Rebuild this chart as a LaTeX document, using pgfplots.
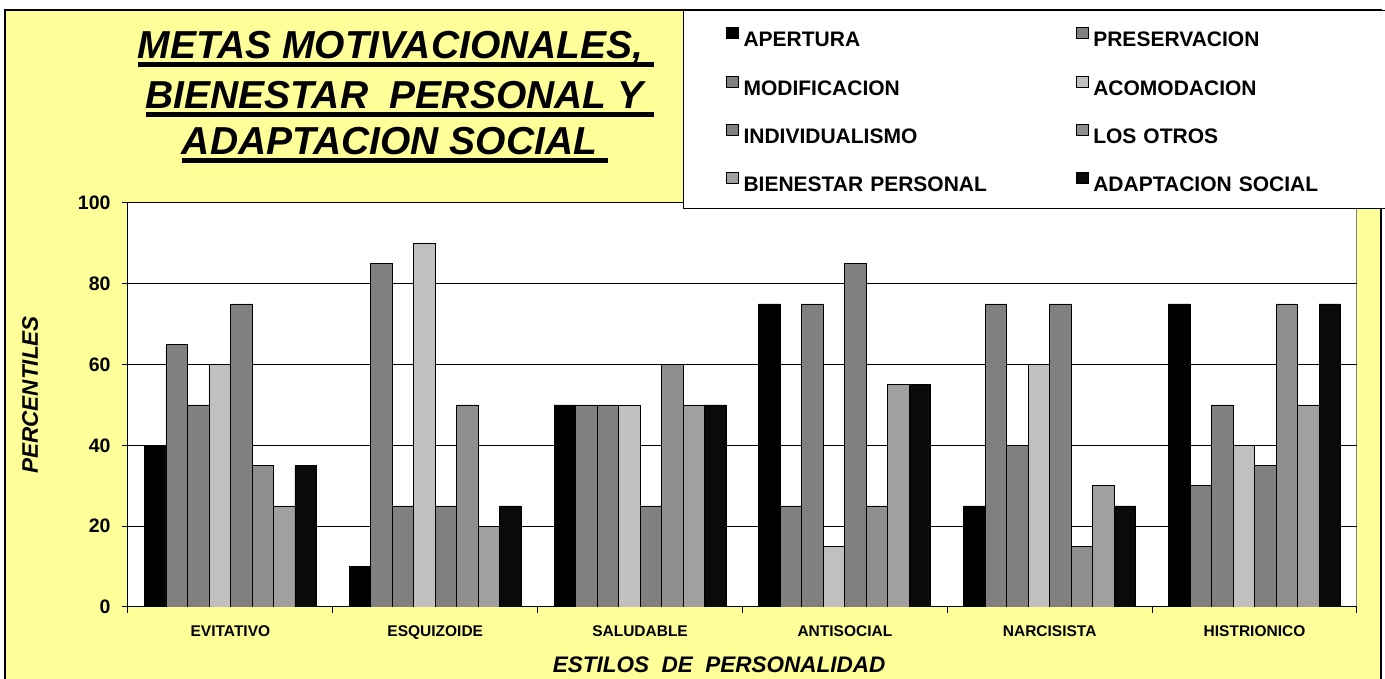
\documentclass[border=0pt]{standalone}
\usepackage{fontspec}
\setmainfont{Liberation Sans}
\usepackage{pgfplots}
\usepackage{pgfplotstable}
\pgfplotsset{compat=1.18}
\definecolor{bgyellow}{HTML}{FFFF99}
\definecolor{cA}{HTML}{000000}
\definecolor{cB}{HTML}{808080}
\definecolor{cC}{HTML}{808080}
\definecolor{cD}{HTML}{C0C0C0}
\definecolor{cE}{HTML}{808080}
\definecolor{cF}{HTML}{8F8F8F}
\definecolor{cG}{HTML}{A0A0A0}
\definecolor{cH}{HTML}{0A0A0A}
\newcommand{\ul}[1]{\setbox0\hbox{#1}\rlap{\copy0}\rule[-8pt]{\wd0}{4.5pt}}
\pgfplotsset{sqlegend/.style={legend image code/.code={\draw[##1,draw=black,line width=0.8pt] (0pt,8pt) rectangle (12pt,19pt);}}}
\pgfplotstableread{
x s1 s2 s3 s4 s5 s6 s7 s8
0 40 65 50 60 75 35 25 35
1 10 85 25 90 25 50 20 25
2 50 50 50 50 25 60 50 50
3 75 25 75 15 85 25 55 55
4 25 75 40 60 75 15 30 25
5 75 30 50 40 35 75 50 75
}\datatable
\begin{document}
\begin{tikzpicture}[x=1pt,y=1pt]
\useasboundingbox (0,0) rectangle (1385,679);
\fill[white] (0,0) rectangle (1385,679);
\draw[fill=bgyellow, line width=2pt] (5,-20) rectangle (1381,669);
\begin{axis}[
  at={(128pt,72pt)}, anchor=south west,
  scale only axis, width=1229pt, height=404pt,
  xmin=-0.5, xmax=5.5, ymin=0, ymax=100,
  axis background/.style={fill=white, draw=gray, line width=1pt},
  axis x line*=bottom, axis y line*=left,
  axis line style={black, line width=1pt, -},
  ybar=0pt, bar width=21.5pt,
  ytick={0,20,...,100},
  xtick={0,...,5},
  xticklabels={EVITATIVO,ESQUIZOIDE,SALUDABLE,ANTISOCIAL,NARCISISTA,HISTRIONICO},
  xtick style={draw=none},
  ytick style={black, line width=1pt},
  tick align=outside, major tick length=6pt,
  extra x ticks={-0.5,0.5,...,5.5},
  extra x tick labels={},
  extra x tick style={xtick style={draw=black, line width=1pt}},
  ymajorgrids, grid style={black, line width=1pt},
  /pgf/number format/assume math mode=true,
  yticklabel style={font=\fontsize{19.5}{20}\selectfont\bfseries, xshift=-8pt},
  xticklabel style={font=\fontsize{15.5}{16}\selectfont\bfseries, yshift=-9pt},
  xlabel={ESTILOS\ \ DE\ \ PERSONALIDAD},
  xlabel style={font=\fontsize{22.5}{23}\selectfont\bfseries\itshape, at={(axis description cs:0.481,0)}, anchor=north, inner sep=0pt, yshift=-50pt},
  ylabel={PERCENTILES},
  ylabel style={font=\fontsize{22.5}{23}\selectfont\bfseries\itshape, at={(axis description cs:-0.0797,0.5248)}, anchor=center, inner sep=0pt},
  every axis plot post/.append style={sqlegend},
  legend columns=2,
  legend style={at={(axis description cs:0.4516,1.4777)}, anchor=north west,
    draw=black, line width=1.5pt, fill=white,
    font=\fontsize{21}{22}\selectfont\bfseries,
    inner xsep=42pt, inner ysep=16.5pt, row sep=29pt,
    cells={anchor=base west},
    nodes={inner sep=0pt, text depth=0pt},
    /tikz/every odd column/.append style={column sep=5pt},
    /tikz/every even column/.append style={column sep=82pt, text width=250pt},
  },
]
\addplot[fill=cA, draw=black, line width=0.8pt] table[x=x,y=s1] {\datatable};
\addplot[fill=cB, draw=black, line width=0.8pt] table[x=x,y=s2] {\datatable};
\addplot[fill=cC, draw=black, line width=0.8pt] table[x=x,y=s3] {\datatable};
\addplot[fill=cD, draw=black, line width=0.8pt] table[x=x,y=s4] {\datatable};
\addplot[fill=cE, draw=black, line width=0.8pt] table[x=x,y=s5] {\datatable};
\addplot[fill=cF, draw=black, line width=0.8pt] table[x=x,y=s6] {\datatable};
\addplot[fill=cG, draw=black, line width=0.8pt] table[x=x,y=s7] {\datatable};
\addplot[fill=cH, draw=black, line width=0.8pt] table[x=x,y=s8] {\datatable};
\legend{APERTURA,PRESERVACION,MODIFICACION,ACOMODACION,INDIVIDUALISMO,LOS OTROS,BIENESTAR PERSONAL,ADAPTACION SOCIAL}
\end{axis}
\node[anchor=base, inner sep=0pt, font=\fontsize{39}{40}\selectfont\bfseries\itshape] at (396,620) {\ul{METAS MOTIVACIONALES,\ }};
\node[anchor=base, inner sep=0pt, font=\fontsize{39}{40}\selectfont\bfseries\itshape] at (400,570) {\ul{BIENESTAR\ \ PERSONAL Y\ }};
\node[anchor=base, inner sep=0pt, font=\fontsize{39}{40}\selectfont\bfseries\itshape] at (395,524) {\ul{ADAPTACION SOCIAL\ }};
\end{tikzpicture}
\end{document}
